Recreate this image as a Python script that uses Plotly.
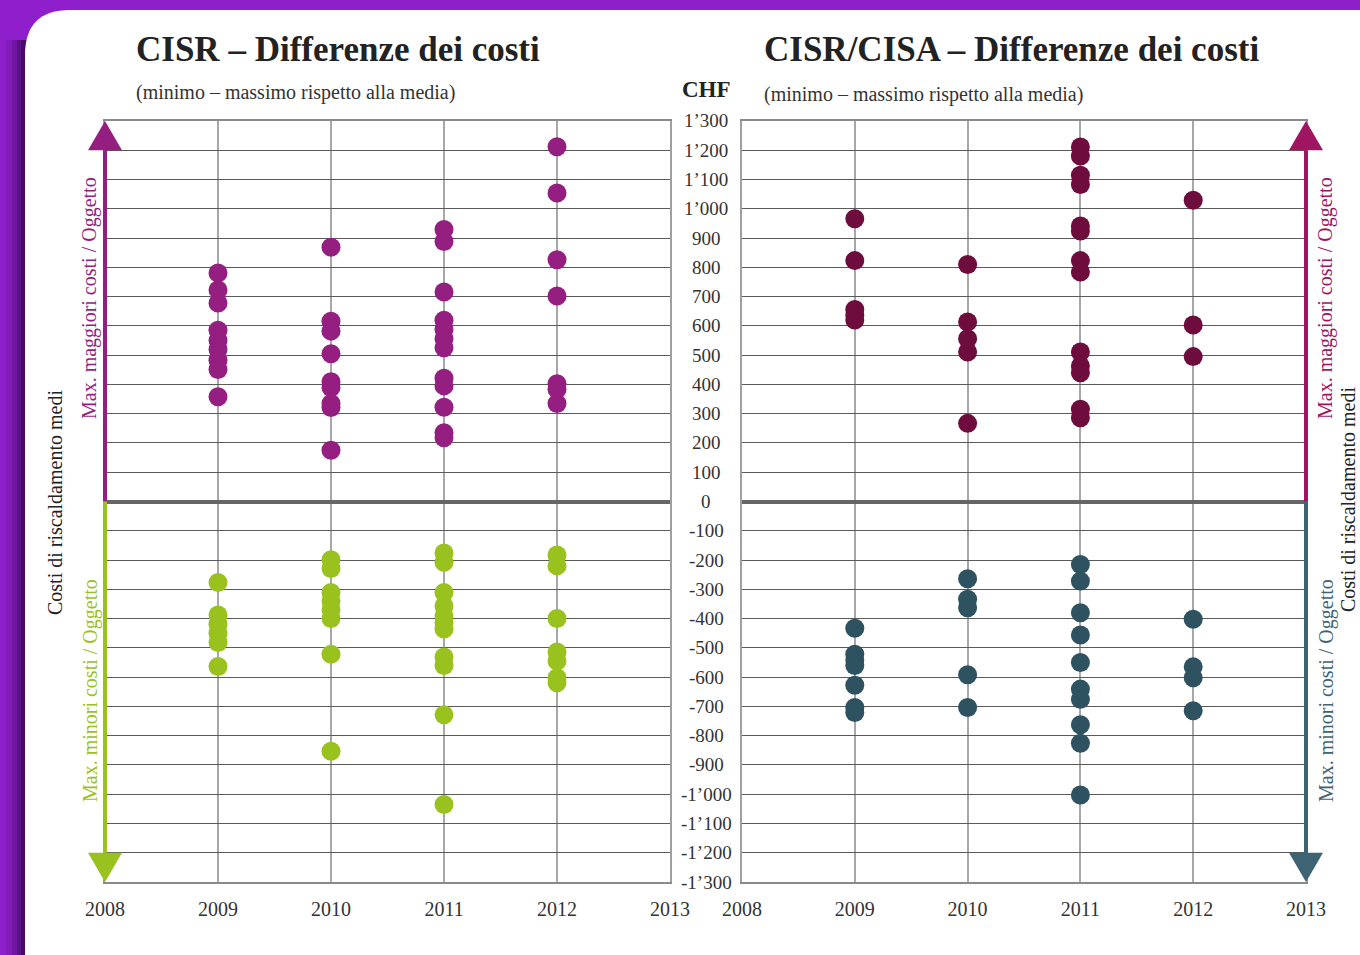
import plotly.graph_objects as go

# ---------------- data (CHF difference vs. mean, per object) ----------------
years = [2008, 2009, 2010, 2011, 2012, 2013]
year_labels = ["2008", "2009", "2010", "2011", "2012", "2013"]

# CISR - max. higher costs / object
cisr_more = {
    2009: [781, 723, 678, 585, 550, 519, 483, 451, 358],
    2010: [869, 616, 582, 505, 409, 389, 335, 321, 175],
    2011: [929, 888, 716, 619, 588, 556, 525, 421, 395, 322, 235, 218],
    2012: [1212, 1054, 826, 702, 402, 383, 335],
}
# CISR - max. lower costs / object
cisr_less = {
    2009: [-277, -388, -419, -450, -482, -564],
    2010: [-199, -229, -311, -340, -370, -400, -522, -853],
    2011: [-176, -208, -311, -357, -391, -414, -436, -531, -560, -729, -1035],
    2012: [-183, -220, -400, -514, -545, -602, -619],
}
# CISR/CISA - max. higher costs / object
cisa_more = {
    2009: [966, 823, 656, 636, 620],
    2010: [810, 613, 556, 511, 267],
    2011: [1211, 1180, 1115, 1083, 941, 924, 823, 784, 511, 463, 440, 315, 286],
    2012: [1029, 603, 495],
}
# CISR/CISA - max. lower costs / object
cisa_less = {
    2009: [-433, -522, -541, -560, -628, -704, -721],
    2010: [-264, -334, -363, -592, -704],
    2011: [-215, -272, -380, -456, -550, -641, -676, -763, -826, -1003],
    2012: [-402, -565, -602, -715],
}

y_ticks = list(range(1300, -1301, -100))
y_tick_labels = ["1’300", "1’200", "1’100", "1’000", "900", "800", "700", "600",
                 "500", "400", "300", "200", "100", "0", "-100", "-200", "-300",
                 "-400", "-500", "-600", "-700", "-800", "-900", "-1’000",
                 "-1’100", "-1’200", "-1’300"]

# ---------------- styling ----------------
W, H = 1360, 955
FONT = "Liberation Serif"
C_L_POS, C_L_NEG = "#951E81", "#9AC21F"
C_R_POS, C_R_NEG = "#6D0C3D", "#2F5260"
C_R_ARR_POS, C_R_ARR_NEG = "#A01562", "#3E6474"

xdom1 = [105 / W, 670 / W]
xdom2 = [742 / W, 1306 / W]
ydom = [(H - 882) / H, (H - 121) / H]
YR = [-1300, 1300]


def py(v):
    return ydom[0] + (v - YR[0]) / (YR[1] - YR[0]) * (ydom[1] - ydom[0])


def series_xy(d):
    xs, ys = [], []
    for yr, vals in d.items():
        xs += [yr] * len(vals)
        ys += vals
    return xs, ys


fig = go.Figure()
for d, col, xa, ya in [(cisr_more, C_L_POS, "x", "y"), (cisr_less, C_L_NEG, "x", "y"),
                       (cisa_more, C_R_POS, "x2", "y2"), (cisa_less, C_R_NEG, "x2", "y2")]:
    xs, ys = series_xy(d)
    fig.add_trace(go.Scatter(x=xs, y=ys, mode="markers", xaxis=xa, yaxis=ya,
                             marker=dict(size=19, color=col, line=dict(width=0)),
                             showlegend=False, hoverinfo="skip"))

xcommon = dict(range=[2008, 2013], tickvals=years, ticktext=year_labels,
               showgrid=True, gridcolor="#a8a8a8", gridwidth=2,
               showline=True, linecolor="#8a8a8a", linewidth=1.5, mirror=True,
               ticks="outside", ticklen=8, tickcolor="rgba(0,0,0,0)",
               tickfont=dict(family=FONT, size=20, color="#333"), zeroline=False)
ycommon = dict(range=YR, dtick=100, tick0=0, showgrid=True, gridcolor="#5a5a5a",
               gridwidth=1, zeroline=True, zerolinecolor="#666", zerolinewidth=4,
               showticklabels=False, showline=True, linecolor="#a0a0a0",
               linewidth=1.5, mirror=True, ticks="")

fig.update_layout(
    width=W, height=H,
    margin=dict(l=0, r=0, t=0, b=0, autoexpand=False),
    paper_bgcolor="#8E1FCB", plot_bgcolor="white",
    xaxis=dict(domain=xdom1, anchor="y", **xcommon),
    yaxis=dict(domain=ydom, anchor="x", **ycommon),
    xaxis2=dict(domain=xdom2, anchor="y2", **xcommon),
    yaxis2=dict(domain=ydom, anchor="x2", **ycommon),
)

shapes = []
# shadow + white card
for x0, op in [(6, 0.12), (12, 0.2), (17, 0.3), (21, 0.4)]:
    shapes.append(dict(type="rect", xref="paper", yref="paper", x0=x0 / W, x1=30 / W,
                       y0=0, y1=(H - 40) / H, fillcolor="#2a0640", opacity=op,
                       line=dict(width=0), layer="below"))
cx0, ctop, r = 25 / W, (H - 10) / H, 45
card = (f"M {cx0},-0.01 L {cx0},{ctop - r / H} Q {cx0},{ctop} {cx0 + r / W},{ctop} "
        f"L 1.01,{ctop} L 1.01,-0.01 Z")
shapes.append(dict(type="path", xref="paper", yref="paper", path=card,
                   fillcolor="white", line=dict(width=0), layer="below"))


def arrow(xp, up, col):
    hw = 17 / W
    base = 1200 if up else -1200
    tip = 1300 if up else -1300
    shapes.append(dict(type="line", xref="paper", yref="paper", x0=xp, x1=xp,
                       y0=py(0), y1=py(base), line=dict(color=col, width=4)))
    shapes.append(dict(type="path", xref="paper", yref="paper",
                       path=f"M {xp - hw},{py(base)} L {xp + hw},{py(base)} L {xp},{py(tip)} Z",
                       fillcolor=col, line=dict(width=0)))


arrow(xdom1[0], True, C_L_POS)
arrow(xdom1[0], False, C_L_NEG)
arrow(xdom2[1], True, C_R_ARR_POS)
arrow(xdom2[1], False, C_R_ARR_NEG)
fig.update_layout(shapes=shapes)

ann = []
# central tick labels
for v, t in zip(y_ticks, y_tick_labels):
    ann.append(dict(x=706 / W, y=v, xref="paper", yref="y", text=t, showarrow=False,
                    xanchor="center", yanchor="middle",
                    font=dict(family=FONT, size=19, color="#333")))


def txt(x, y, t, size, color, bold=False, angle=0, xanchor="left"):
    ann.append(dict(x=x / W, y=1 - y / H, xref="paper", yref="paper",
                    text=f"<b>{t}</b>" if bold else t, showarrow=False,
                    xanchor=xanchor, yanchor="middle", textangle=angle,
                    font=dict(family=FONT, size=size, color=color)))


txt(134, 50, "CISR – Differenze dei costi", 35, "#222", bold=True)
txt(134, 92, "(minimo – massimo rispetto alla media)", 20, "#333")
txt(762, 50, "CISR/CISA – Differenze dei costi", 35, "#222", bold=True)
txt(762, 95, "(minimo – massimo rispetto alla media)", 20, "#333")
txt(706, 90, "CHF", 23, "#222", bold=True, xanchor="center")
txt(55, 503, "Costi di riscaldamento medi", 20, "#222", angle=-90, xanchor="center")
txt(90, 298, "Max. maggiori costi / Oggetto", 20, C_L_POS, angle=-90, xanchor="center")
txt(90, 691, "Max. minori costi / Oggetto", 20, C_L_NEG, angle=-90, xanchor="center")
txt(1326, 298, "Max. maggiori costi / Oggetto", 20, C_R_ARR_POS, angle=-90, xanchor="center")
txt(1326, 691, "Max. minori costi / Oggetto", 20, C_R_ARR_NEG, angle=-90, xanchor="center")
txt(1348, 500, "Costi di riscaldamento medi", 20, "#222", angle=-90, xanchor="center")
fig.update_layout(annotations=ann)

fig.write_html("out.html", config={"displayModeBar": False},
               post_script="document.body.style.margin='0';document.body.style.overflow='hidden';")
